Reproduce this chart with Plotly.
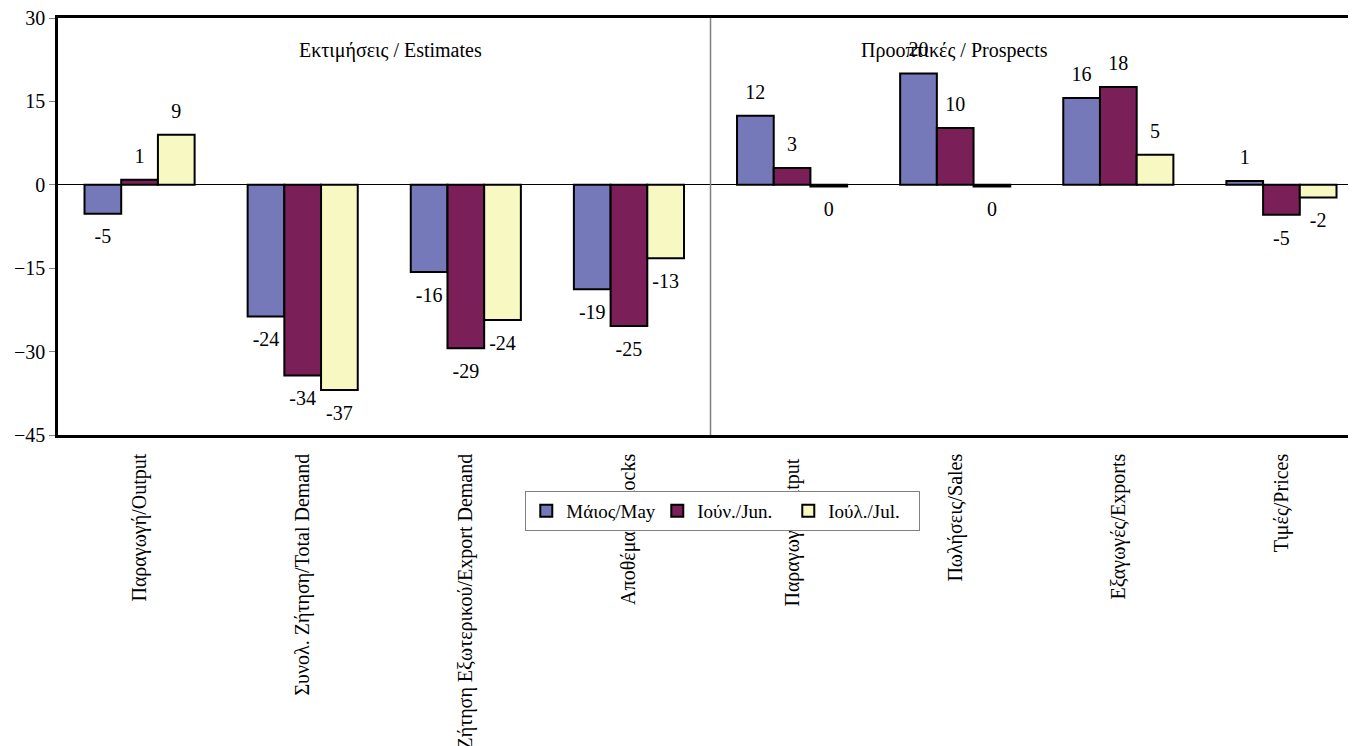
import plotly.graph_objects as go

categories = [
    "Παραγωγή/Output",
    "Συνολ. Ζήτηση/Total Demand",
    "Ζήτηση Εξωτερικού/Export Demand",
    "Αποθέματα/Stocks",
    "Παραγωγή/Output ",
    "Πωλήσεις/Sales",
    "Εξαγωγές/Exports",
    "Τιμές/Prices",
]
series_names = ["Μάιος/May", "Ιούν./Jun.", "Ιούλ./Jul."]
may = [-5.2, -23.7, -15.7, -18.8, 12.4, 20.0, 15.6, 0.7]
jun = [0.9, -34.3, -29.4, -25.4, 3.0, 10.2, 17.6, -5.4]
jul = [9.0, -36.9, -24.3, -13.2, -0.3, -0.3, 5.4, -2.3]
colors = ["#7578B9", "#7B1F59", "#F8F8C2"]
section_titles = ["Εκτιμήσεις / Estimates", "Προοπτικές / Prospects"]
y_ticks = [-45, -30, -15, 0, 15, 30]

FONT = "Liberation Serif, Times New Roman, serif"
x_idx = list(range(len(categories)))

fig = go.Figure()
for name, vals, col in zip(series_names, [may, jun, jul], colors):
    fig.add_trace(go.Bar(
        x=x_idx, y=vals, name=name,
        marker=dict(color=col, line=dict(color="black", width=2)),
        hoverinfo="skip",
    ))
for name, vals in zip(series_names, [may, jun, jul]):
    fig.add_trace(go.Scatter(
        x=x_idx, y=vals, mode="markers+text",
        text=[str(int(round(v))) for v in vals],
        textposition=["top center" if v > 0 else "bottom center" for v in vals],
        textfont=dict(family=FONT, size=20, color="black"),
        marker=dict(size=[18 if v > 0 else 22 for v in vals], opacity=0),
        showlegend=False, hoverinfo="skip", cliponaxis=False,
    ))

fig.add_shape(type="line", xref="x", yref="paper", x0=3.5, x1=3.5, y0=0, y1=1,
              line=dict(color="#808080", width=1.5))

fig.add_annotation(text=section_titles[0], xref="paper", yref="paper", x=0.2558, y=0.923,
                   xanchor="center", yanchor="middle",
                   showarrow=False, font=dict(family=FONT, size=20, color="black"))
fig.add_annotation(text=section_titles[1], xref="paper", yref="paper", x=0.691, y=0.923,
                   xanchor="center", yanchor="middle",
                   showarrow=False, font=dict(family=FONT, size=20, color="black"))

fig.update_layout(
    width=1356, height=746,
    margin=dict(l=50, r=8, t=10, b=319),
    paper_bgcolor="white", plot_bgcolor="white",
    barmode="group", bargap=0.325, bargroupgap=0,
    scattermode="group", scattergap=0.325,
    font=dict(family=FONT, size=20, color="black"),
    showlegend=True,
    legend=dict(
        orientation="h", x=0.36, y=-0.134, xanchor="left", yanchor="top",
        bgcolor="white", bordercolor="#808080", borderwidth=1,
        font=dict(family=FONT, size=19, color="black"),
        entrywidth=86, itemwidth=30,
    ),
    xaxis=dict(
        range=[-0.5, 7.457], tickmode="array", tickvals=x_idx, ticktext=categories,
        tickangle=-90, showline=True, linecolor="black", linewidth=2.5, mirror=True,
        showgrid=False, zeroline=False, ticks="", ticklabelstandoff=8,
        automargin=False,
        tickfont=dict(family=FONT, size=20, color="black"),
    ),
    yaxis=dict(
        range=[-45, 30], tickvals=y_ticks, showline=True, linecolor="black", linewidth=2.5,
        showgrid=False, zeroline=True, zerolinecolor="black", zerolinewidth=1,
        ticks="outside", ticklen=6, tickcolor="#808080", automargin=False,
        ticklabeloverflow="allow",
        tickfont=dict(family=FONT, size=20, color="black"),
    ),
)

fig.write_html("out.html")
